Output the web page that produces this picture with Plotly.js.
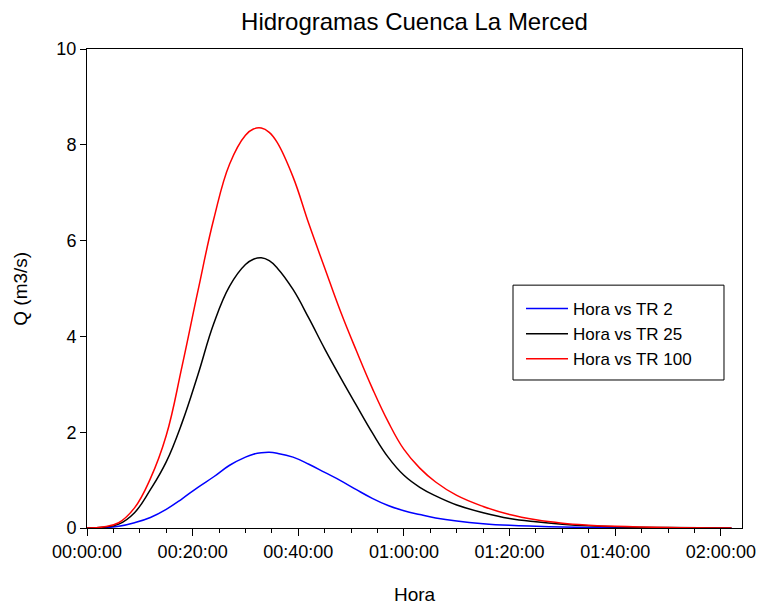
<!DOCTYPE html>
<html>
<head>
<meta charset="utf-8">
<script src="https://cdn.plot.ly/plotly-3.0.1.min.js"></script>
<style>html,body{margin:0;padding:0;background:#fff;}#chart{width:764px;height:608px;}</style>
</head>
<body>
<div id="chart"></div>
<script>
// Time of each reading (HH:MM:SS)
var hora = ["00:00:00","00:03:00","00:06:00","00:09:00","00:12:00","00:15:00","00:18:00","00:21:00",
            "00:24:00","00:27:00","00:30:00","00:31:30","00:33:00","00:34:30","00:36:00","00:39:00",
            "00:42:00","00:45:00","00:48:00","00:51:00","00:54:00","00:57:00","01:00:00","01:03:00",
            "01:06:00","01:10:00","01:15:00","01:20:00","01:25:00","01:30:00","01:35:00","01:40:00",
            "01:50:00","02:02:00"];
// Discharge Q (m3/s) for each return period
var tr2   = [0, 0.005, 0.035, 0.11, 0.22, 0.39, 0.61, 0.85, 1.07, 1.31, 1.48, 1.54, 1.57, 1.58, 1.56, 1.48,
             1.33, 1.16, 0.99, 0.80, 0.62, 0.47, 0.36, 0.28, 0.21, 0.145, 0.09, 0.055, 0.035, 0.02, 0.012,
             0.007, 0.002, 0];
var tr25  = [0, 0.015, 0.08, 0.32, 0.80, 1.38, 2.20, 3.20, 4.27, 5.05, 5.50, 5.61, 5.64, 5.58, 5.43, 4.98,
             4.38, 3.74, 3.14, 2.56, 1.99, 1.48, 1.10, 0.85, 0.67, 0.48, 0.32, 0.20, 0.13, 0.08, 0.045,
             0.025, 0.008, 0];
var tr100 = [0, 0.02, 0.11, 0.42, 1.03, 1.93, 3.38, 4.95, 6.45, 7.60, 8.20, 8.33, 8.35, 8.26, 8.05, 7.33,
             6.35, 5.43, 4.52, 3.70, 2.92, 2.22, 1.64, 1.25, 0.96, 0.68, 0.45, 0.28, 0.17, 0.10, 0.06,
             0.035, 0.01, 0];
var seriesNames = ["Hora vs TR 2", "Hora vs TR 25", "Hora vs TR 100"];
var seriesColors = ["#0000ff", "#000000", "#ff0000"];
var xTitle = "Hora", yTitle = "Q (m3/s)", chartTitle = "Hidrogramas Cuenca La Merced";

var xs = hora.map(function(h){ return "2000-01-01 " + h; });
var ys = [tr2, tr25, tr100];
var traces = ys.map(function(y, i){
  return {x: xs, y: y, type: "scatter", mode: "lines", name: seriesNames[i],
          line: {color: seriesColors[i], width: 1.5, shape: "spline", smoothing: 1.2}};
});

var font = "Liberation Sans, Arial, sans-serif";
var layout = {
  width: 764, height: 608,
  margin: {l: 87, r: 22, t: 49, b: 80},
  paper_bgcolor: "#fff", plot_bgcolor: "#fff",
  font: {family: font, color: "#000", size: 17},
  title: {text: chartTitle, font: {family: font, size: 24, color: "#000"},
          x: 0.5, xref: "paper", y: 0.965, yanchor: "middle"},
  xaxis: {
    type: "date",
    range: ["2000-01-01 00:00:00", "2000-01-01 02:04:00"],
    tick0: "2000-01-01 00:00:00", dtick: 1200000,
    tickformat: "%H:%M:%S",
    ticks: "outside", ticklen: 7, tickcolor: "#000", tickwidth: 1,
    minor: {dtick: 300000, ticks: "outside", ticklen: 4, tickcolor: "#000", showgrid: false},
    showline: true, linecolor: "#000", linewidth: 1, mirror: true,
    showgrid: false, zeroline: false, automargin: false,
    tickfont: {size: 18, family: font}
  },
  yaxis: {
    range: [0, 10], dtick: 2, tick0: 0,
    ticks: "outside", ticklen: 6, tickcolor: "#000", tickwidth: 1,
    showline: true, linecolor: "#000", linewidth: 1, mirror: true,
    showgrid: false, zeroline: false, automargin: false,
    tickfont: {size: 18, family: font}
  },
  annotations: [
    {text: xTitle, xref: "paper", yref: "paper", x: 0.5, y: -0.139, xanchor: "center", yanchor: "middle",
     showarrow: false, font: {size: 19, family: font}},
    {text: yTitle, xref: "paper", yref: "paper", x: -0.102, y: 0.5, xanchor: "center", yanchor: "middle",
     textangle: -90, showarrow: false, font: {size: 19, family: font}}
  ],
  showlegend: true,
  legend: {x: 0.6626, y: 0.4948, xanchor: "left", yanchor: "top",
           borderwidth: 0, bgcolor: "rgba(0,0,0,0)",
           font: {size: 17, family: font}, itemwidth: 42},
  shapes: [{type: "rect", xref: "paper", yref: "paper", x0: 0.6504, x1: 0.9725, y0: 0.309, y1: 0.507,
            line: {color: "#000", width: 1}, fillcolor: "rgba(0,0,0,0)"}]
};
Plotly.newPlot("chart", traces, layout, {displayModeBar: false, staticPlot: true});
</script>
</body>
</html>
